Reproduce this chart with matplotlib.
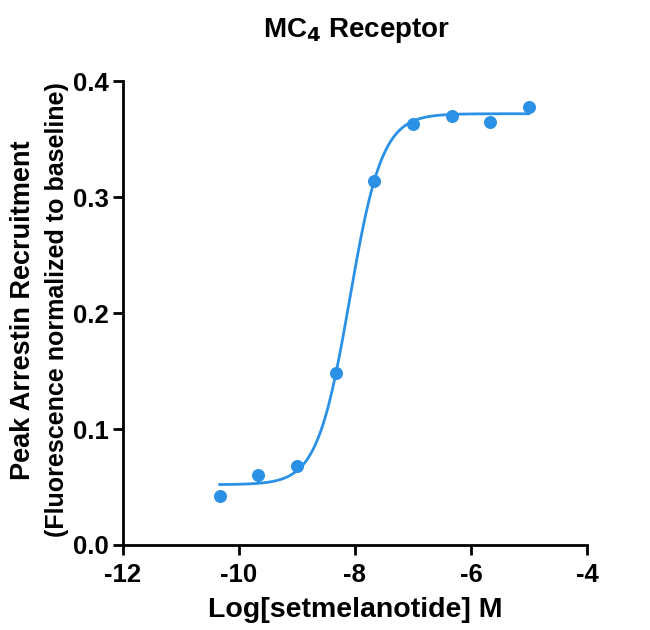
import numpy as np
import matplotlib.pyplot as plt

plt.rcParams['font.family'] = ['Liberation Sans', 'DejaVu Sans']
plt.rcParams['font.weight'] = 'bold'

# measured points
log_conc = [-10.33, -9.67, -9.0, -8.33, -7.67, -7.0, -6.33, -5.67, -5.0]
response = [0.042, 0.060, 0.068, 0.148, 0.314, 0.363, 0.370, 0.365, 0.378]

# four-parameter logistic fit
bottom = 0.052
top = 0.372
log_ec50 = -8.09
hill = 1.55

x_ticks = [-12, -10, -8, -6, -4]
y_ticks = [0.0, 0.1, 0.2, 0.3, 0.4]

blue = '#2b91e6'

fig = plt.figure(figsize=(6.5, 6.3), dpi=100)
ax = fig.add_axes([0.189, 0.135, 0.714, 0.736])

xfit = np.linspace(min(log_conc), max(log_conc), 300)
yfit = bottom + (top - bottom) / (1 + 10 ** ((log_ec50 - xfit) * hill))
ax.plot(xfit, yfit, color=blue, lw=2.0, zorder=2)
ax.scatter(log_conc, response, s=70, color=blue, zorder=3, clip_on=False)

ax.set_xlim(-12, -4)
ax.set_ylim(0, 0.4)
ax.set_xticks(x_ticks)
ax.set_yticks(y_ticks)
ax.set_xticklabels([str(t) for t in x_ticks])
ax.set_yticklabels([f'{t:.1f}' for t in y_ticks])
ax.tick_params(direction='out', width=2, length=7, labelsize=18.5, pad=3)
ax.tick_params(axis='x', pad=6)
for s in ['top', 'right']:
    ax.spines[s].set_visible(False)
for s in ['left', 'bottom']:
    ax.spines[s].set_linewidth(2)

ax.set_xlabel('Log[setmelanotide] M', fontsize=20.5, fontweight='bold', labelpad=7)
fig.text(0.036, 0.508, 'Peak Arrestin Recruitment', rotation=90, fontsize=19.5,
         fontweight='bold', ha='center', va='center')
fig.text(0.088, 0.508, '(Fluorescence normalized to baseline)', rotation=90,
         fontsize=18, fontweight='bold', ha='center', va='center')
fig.text(0.548, 0.952, r'MC$_\mathbf{4}$ Receptor', fontsize=20, fontweight='bold',
         ha='center', va='center')

fig.savefig('out.png')
